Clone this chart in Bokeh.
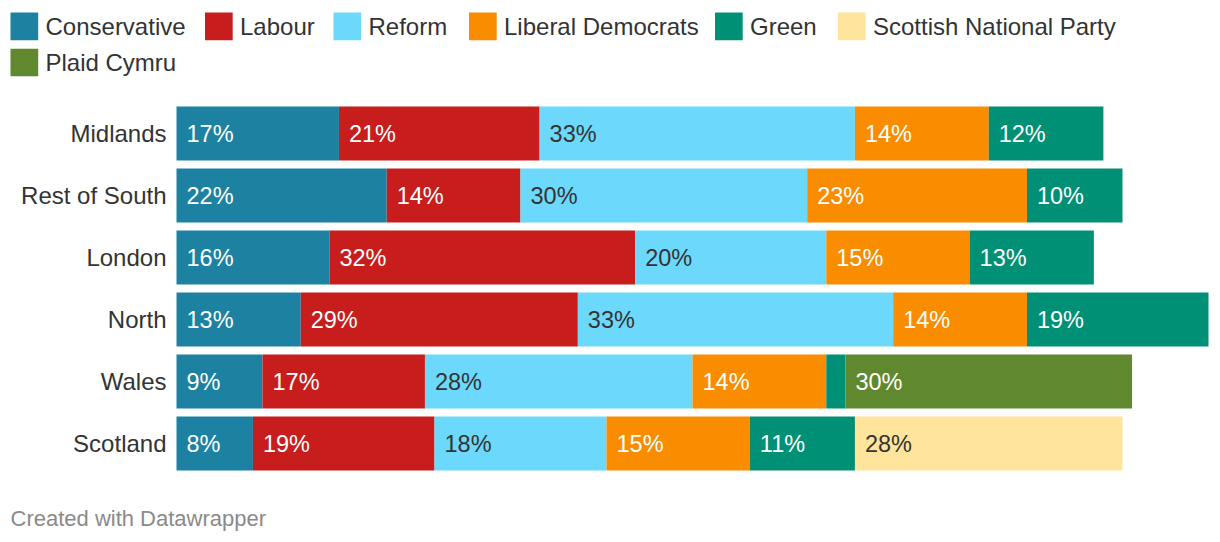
from bokeh.plotting import figure
from bokeh.models import ColumnDataSource, Range1d
from bokeh.embed import file_html
from bokeh.resources import INLINE
from bokeh.core.properties import value

# ---- data ----
regions = ["Midlands", "Rest of South", "London", "North", "Wales", "Scotland"]
parties = ["Conservative", "Labour", "Reform", "Liberal Democrats", "Green",
           "Scottish National Party", "Plaid Cymru"]
conservative = [17, 22, 16, 13, 9, 8]
labour = [21, 14, 32, 29, 17, 19]
reform = [33, 30, 20, 33, 28, 18]
lib_dem = [14, 23, 15, 14, 14, 15]
green = [12, 10, 13, 19, 2, 11]
snp = [0, 0, 0, 0, 0, 28]
plaid = [0, 0, 0, 0, 30, 0]
footer_text = "Created with Datawrapper"

series = [conservative, labour, reform, lib_dem, green, snp, plaid]
colors = ["#1d81a2", "#c71e1d", "#6cd9fc", "#fa8c00", "#009076", "#ffe59c", "#60892f"]
label_colors = ["#ffffff", "#ffffff", "#333333", "#ffffff", "#ffffff", "#333333", "#ffffff"]

FONT = "Liberation Sans"

# ---- layout constants (pixels) ----
W, H = 1220, 542
PLOT_L, PLOT_R = 176, 1208        # x=0 and x=108 in pixels
ROW0_C, ROW_STEP = 133, 62        # centre of the first row and row pitch
X_MAX = 108
pxu = (PLOT_R - PLOT_L) / X_MAX   # pixels per percentage point

x_range = Range1d(-PLOT_L / pxu, X_MAX + (W - PLOT_R) / pxu)
y_range = Range1d((H - ROW0_C) / ROW_STEP, -ROW0_C / ROW_STEP)  # rows run downward

p = figure(width=W, height=H, x_range=x_range, y_range=y_range,
           x_axis_type=None, y_axis_type=None, toolbar_location=None,
           output_backend="svg", min_border=0)
p.outline_line_color = None
p.grid.visible = False
p.extra_x_ranges = {"px": Range1d(0, W)}
p.extra_y_ranges = {"px": Range1d(H, 0)}

data = {"region": regions, "row": list(range(len(regions)))}
for name, vals in zip(parties, series):
    data[name] = vals
source = ColumnDataSource(data)
bars = p.hbar_stack(parties, y="row", height=54 / 62, color=colors,
                    line_color=None, source=source)

# segment labels
lx, ly, lt, lc = [], [], [], []
for i in range(len(regions)):
    cum = 0
    for vals, col in zip(series, label_colors):
        v = vals[i]
        if v >= 5:
            lx.append(cum)
            ly.append(i)
            lt.append(f"{v}%")
            lc.append(col)
        cum += v
p.text(x=lx, y=ly, text=lt, text_color=lc, x_offset=10, text_font=value(FONT),
       text_font_size="23.5px", text_baseline="middle", text_align="left")

# category labels (left of the bars)
p.text(x=[PLOT_L - 10] * len(regions), y=list(range(len(regions))), text=regions,
       x_range_name="px", text_font=value(FONT), text_font_size="24px",
       text_color="#333333", text_baseline="middle", text_align="right")

# ---- legend ----
sw = 27.7
sw_x = [10, 204.5, 333, 468.5, 714.5, 837.5, 10]
sw_y = [25.9, 25.9, 25.9, 25.9, 25.9, 25.9, 62]
p.rect(x=[x + sw / 2 for x in sw_x], y=sw_y, width=sw, height=sw,
       fill_color=colors, line_color=None, x_range_name="px", y_range_name="px")
p.text(x=[x + 35 for x in sw_x], y=sw_y, text=parties, x_range_name="px",
       y_range_name="px", text_font=value(FONT), text_font_size="24px",
       text_color="#333333", text_baseline="middle", text_align="left")

# ---- footer ----
p.text(x=[10], y=[518], text=[footer_text], x_range_name="px", y_range_name="px",
       text_font=value(FONT), text_font_size="22px", text_color="#8a8a8a",
       text_baseline="middle", text_align="left")

open("out.html", "w").write(file_html(p, INLINE))
